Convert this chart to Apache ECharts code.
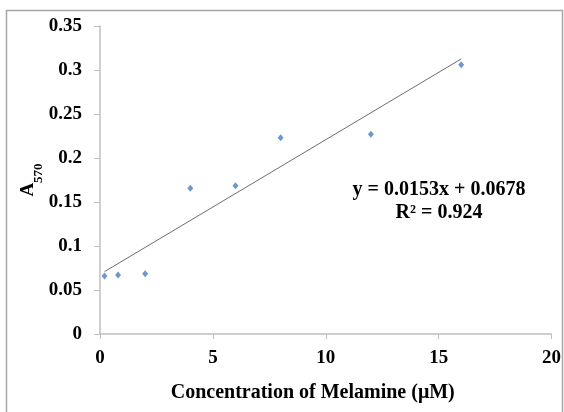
<!DOCTYPE html>
<html>
<head>
<meta charset="utf-8">
<script src="https://cdn.jsdelivr.net/npm/echarts@6/dist/echarts.min.js"></script>
<style>
  html, body { margin: 0; padding: 0; background: #fff; }
  #chart { width: 564px; height: 412px; }
</style>
</head>
<body>
<div id="chart"></div>
<script>
// melamine concentration (uM) vs absorbance at 570 nm
const concentration = [0.2, 0.8, 2, 4, 6, 8, 12, 16]
const absorbance = [0.066, 0.067, 0.0685, 0.1655, 0.1685, 0.223, 0.227, 0.306]
// linear fit as printed on the chart
const slope = 0.0153
const intercept = 0.0678
const trendRange = [0.2, 16]
const xTicks = { min: 0, max: 20, interval: 5 }
const yTicks = { min: 0, max: 0.35, interval: 0.05 }

const serif = 'Liberation Serif'
const chart = echarts.init(document.getElementById('chart'))

chart.setOption({
  backgroundColor: '#fff',
  animation: false,
  textStyle: { fontFamily: serif },
  grid: { left: 100, right: 11, top: 26, bottom: 78 },
  xAxis: {
    type: 'value',
    min: xTicks.min,
    max: xTicks.max,
    interval: xTicks.interval,
    name: 'Concentration of Melamine (μM)',
    nameLocation: 'middle',
    nameGap: 49,
    nameMoveOverlap: false,
    nameTextStyle: { fontFamily: serif, fontWeight: 'bold', fontSize: 20, color: '#000', padding: [0, 26, 0, 0] },
    axisLine: { lineStyle: { color: '#bfbfbf', width: 1.5 } },
    axisTick: { show: true, length: 5, lineStyle: { color: '#bfbfbf' } },
    axisLabel: { margin: 15, fontFamily: serif, fontWeight: 'bold', fontSize: 19, color: '#000' },
    splitLine: { show: false },
  },
  yAxis: {
    type: 'value',
    min: yTicks.min,
    max: yTicks.max,
    interval: yTicks.interval,
    name: '{a|A}{s|570}',
    nameLocation: 'middle',
    nameRotate: 90,
    nameGap: 55,
    nameMoveOverlap: false,
    nameTextStyle: {
      rich: {
        a: { fontFamily: serif, fontWeight: 'bold', fontSize: 19, color: '#000', lineHeight: 26, verticalAlign: 'top' },
        s: { fontFamily: serif, fontWeight: 'bold', fontSize: 13, color: '#000', lineHeight: 26, verticalAlign: 'bottom', padding: [8, 0, 0, 0] },
      },
    },
    axisLine: { show: true, lineStyle: { color: '#bfbfbf', width: 1.5 } },
    axisTick: { show: true, length: 6, lineStyle: { color: '#bfbfbf' } },
    axisLabel: { margin: 18, fontFamily: serif, fontWeight: 'bold', fontSize: 19, color: '#000' },
    splitLine: { show: false },
  },
  graphic: [
    {
      type: 'rect',
      shape: { x: 6.5, y: 10.5, width: 556, height: 420 },
      style: { fill: 'none', stroke: '#a6a6a6', lineWidth: 1.5 },
      silent: true,
    },
    {
      type: 'text',
      x: 439,
      y: 190,
      style: { text: 'y = 0.0153x + 0.0678', font: 'bold 20px "Liberation Serif"', fill: '#000', align: 'center', verticalAlign: 'middle' },
    },
    {
      type: 'text',
      x: 439,
      y: 213,
      style: { text: 'R² = 0.924', font: 'bold 20px "Liberation Serif"', fill: '#000', align: 'center', verticalAlign: 'middle' },
    },
  ],
  series: [
    {
      name: 'Trend',
      type: 'line',
      data: trendRange.map((x) => [x, slope * x + intercept]),
      symbol: 'none',
      lineStyle: { color: '#6e6e6e', width: 1 },
      z: 1,
    },
    {
      name: 'A570',
      type: 'scatter',
      data: concentration.map((x, i) => [x, absorbance[i]]),
      symbol: 'diamond',
      symbolSize: [6, 7],
      itemStyle: { color: '#4a7ebb' },
      z: 2,
    },
  ],
})
</script>
</body>
</html>
